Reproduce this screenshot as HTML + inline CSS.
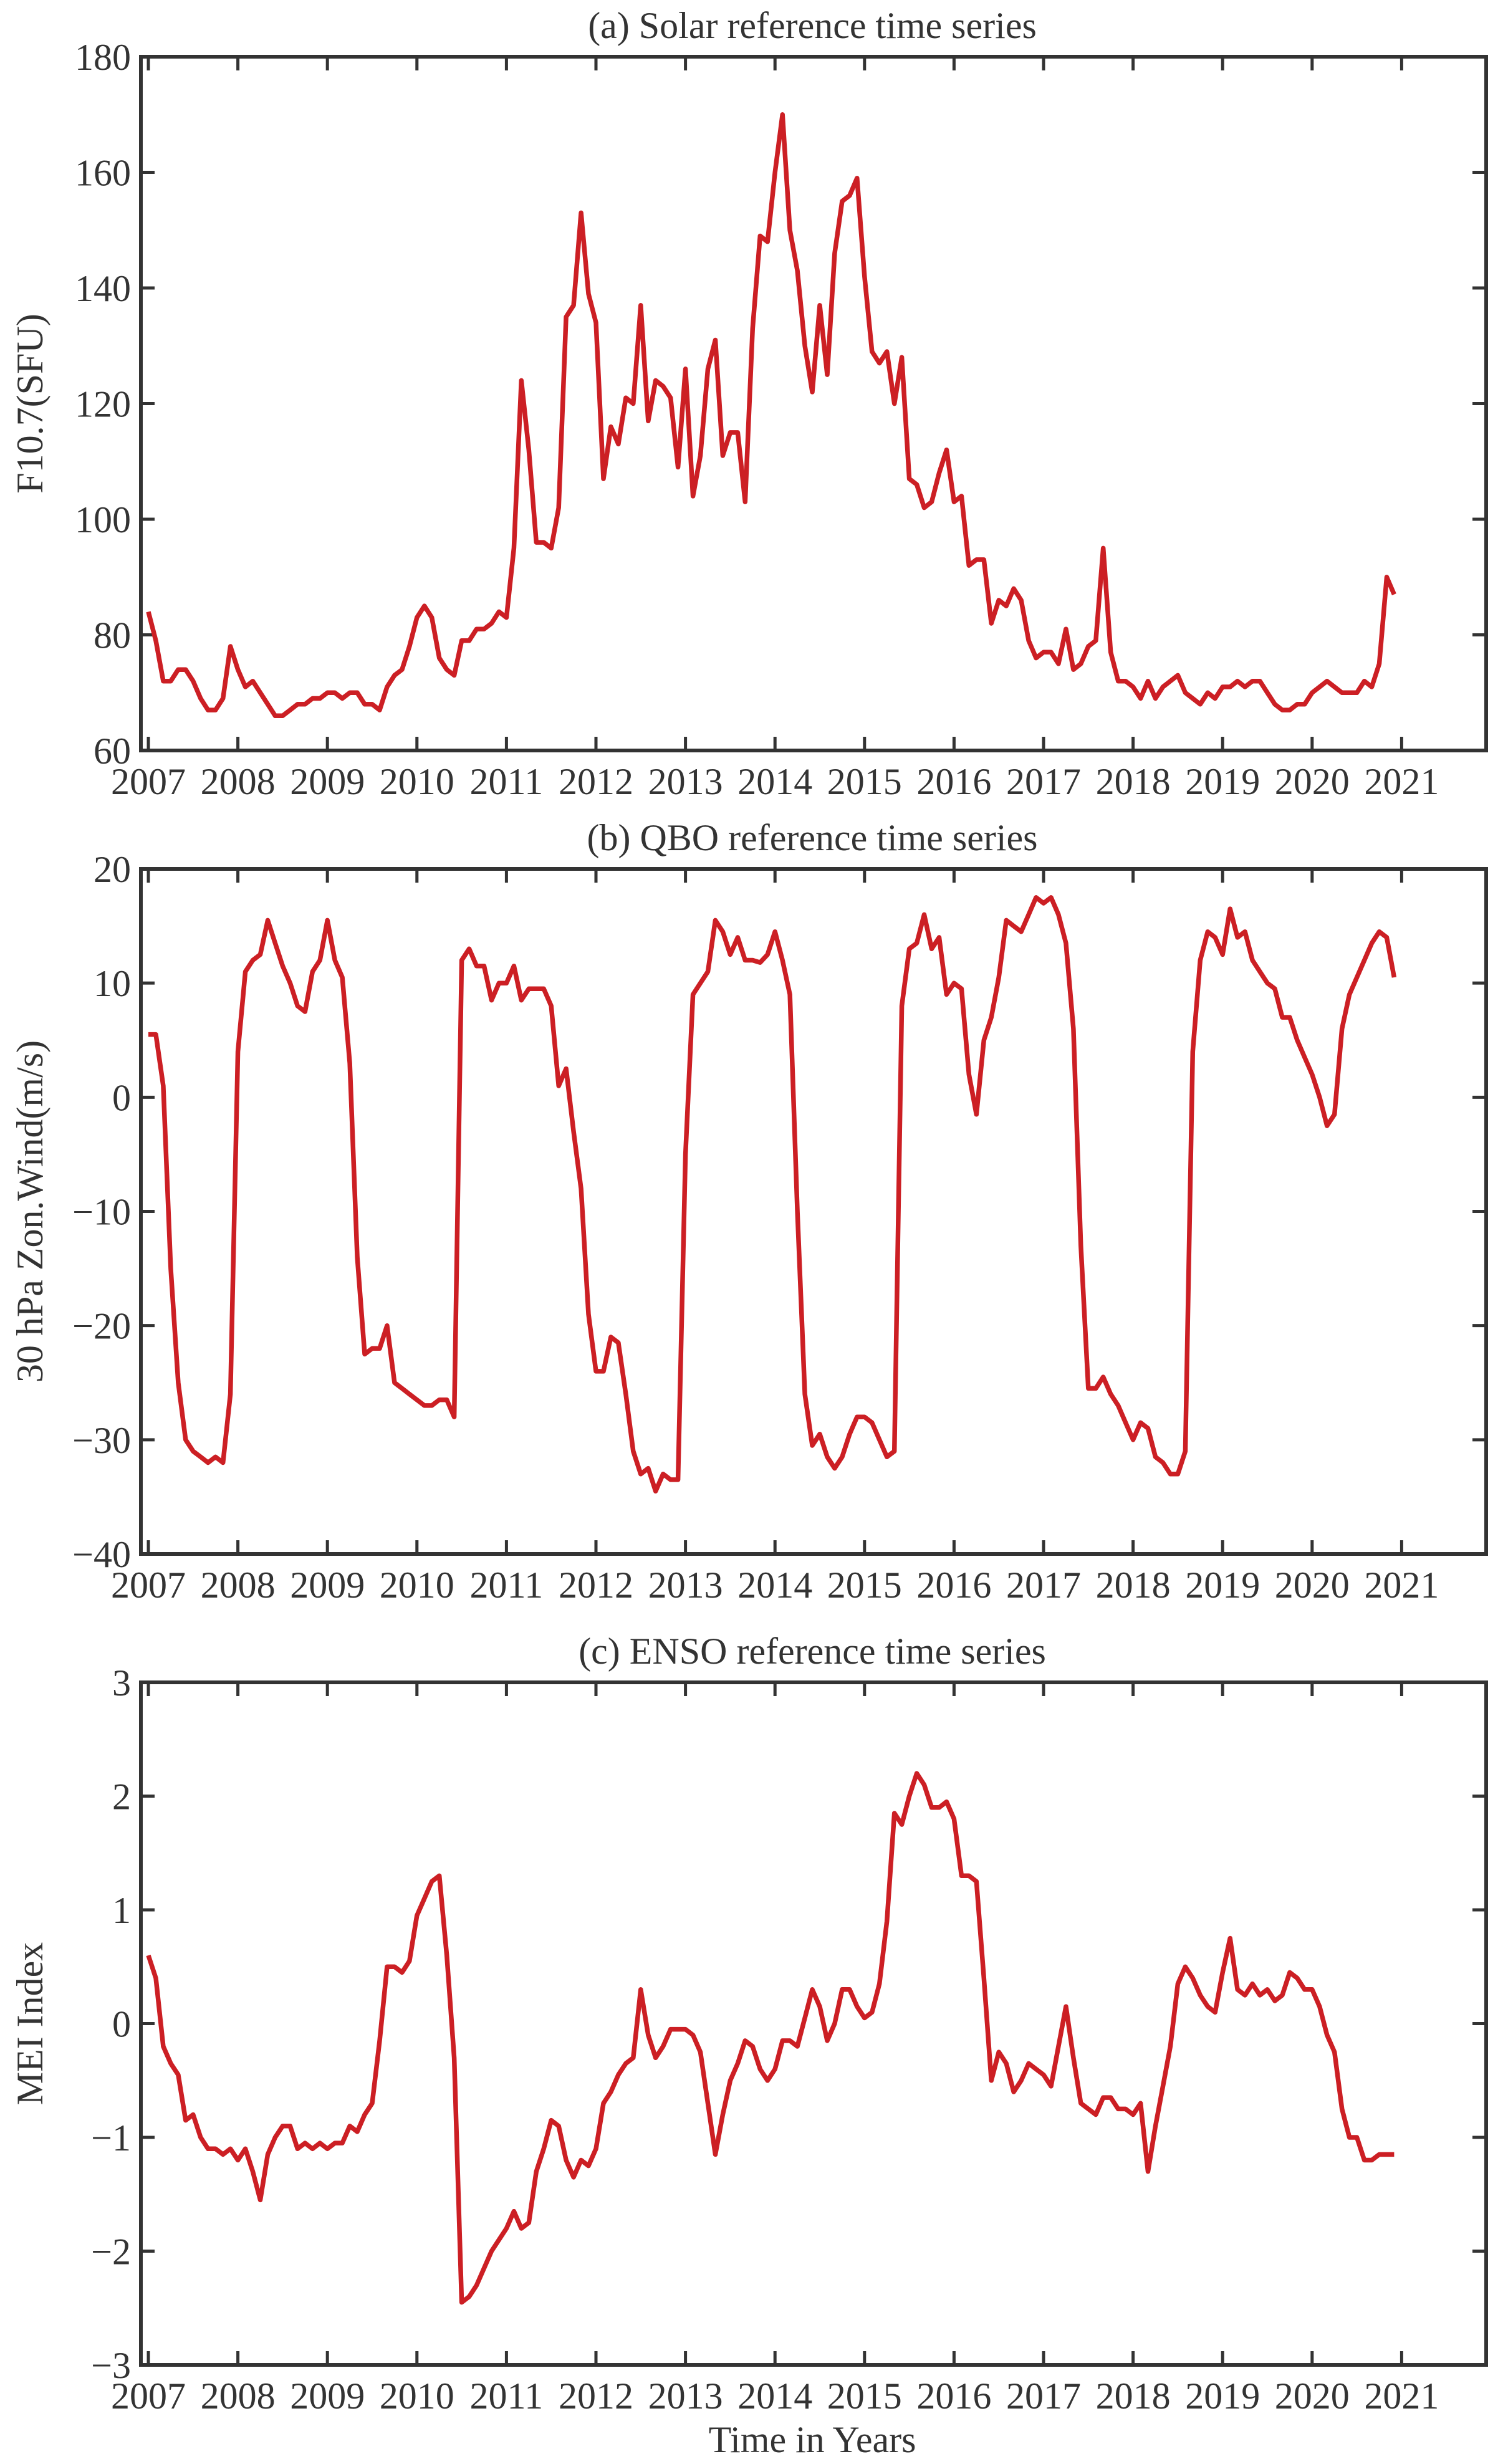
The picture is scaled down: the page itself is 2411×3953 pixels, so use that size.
<!DOCTYPE html>
<html><head><meta charset="utf-8"><style>
html,body{margin:0;padding:0;background:#fff;}
svg{display:block;}
text{font-family:"Liberation Serif",serif;fill:#333;}
</style></head><body>
<svg id="fig" width="2411" height="3953" viewBox="0 0 2411 3953" xmlns="http://www.w3.org/2000/svg"></svg>
<script>
const years = [2007,2008,2009,2010,2011,2012,2013,2014,2015,2016,2017,2018,2019,2020,2021];
const solarTicks = [60,80,100,120,140,160,180];
const qboTicks = [-40,-30,-20,-10,0,10,20];
const ensoTicks = [-3,-2,-1,0,1,2,3];
const solarValues = [
84,79,72,72,74,74,72,69,67,67,69,78,
74,71,72,70,68,66,66,67,68,68,69,69,
70,70,69,70,70,68,68,67,71,73,74,78,
83,85,83,76,74,73,79,79,81,81,82,84,
83,95,124,112,96,96,95,102,135,137,153,139,
134,107,116,113,121,120,137,117,124,123,121,109,
126,104,111,126,131,111,115,115,103,133,149,148,
160,170,150,143,130,122,137,125,146,155,156,159,
142,129,127,129,120,128,107,106,102,103,108,112,
103,104,92,93,93,82,86,85,88,86,79,76,
77,77,75,81,74,75,78,79,95,77,72,72,
71,69,72,69,71,72,73,70,69,68,70,69,
71,71,72,71,72,72,70,68,67,67,68,68,
70,71,72,71,70,70,70,72,71,75,90,87];
const qboValues = [
5.5,5.5,1,-15,-25,-30,-31,-31.5,-32,-31.5,-32,-26,
4,11,12,12.5,15.5,13.5,11.5,10,8,7.5,11,12,
15.5,12,10.5,3,-14,-22.5,-22,-22,-20,-25,-25.5,-26,
-26.5,-27,-27,-26.5,-26.5,-28,12,13,11.5,11.5,8.5,10,
10,11.5,8.5,9.5,9.5,9.5,8,1,2.5,-3,-8,-19,
-24,-24,-21,-21.5,-26,-31,-33,-32.5,-34.5,-33,-33.5,-33.5,
-5,9,10,11,15.5,14.5,12.5,14,12,12,11.8,12.5,
14.5,12,9,-10,-26,-30.5,-29.5,-31.5,-32.5,-31.5,-29.5,-28,
-28,-28.5,-30,-31.5,-31,8,13,13.5,16,13,14,9,
10,9.5,2,-1.5,5,7,10.5,15.5,15,14.5,16,17.5,
17,17.5,16,13.5,6,-13,-25.5,-25.5,-24.5,-26,-27,-28.5,
-30,-28.5,-29,-31.5,-32,-33,-33,-31,4,12,14.5,14,
12.5,16.5,14,14.5,12,11,10,9.5,7,7,5,3.5,
2,0,-2.5,-1.5,6,9,10.5,12,13.5,14.5,14,10.5];
const ensoValues = [
0.6,0.4,-0.2,-0.35,-0.45,-0.85,-0.8,-1.0,-1.1,-1.1,-1.15,-1.1,
-1.2,-1.1,-1.3,-1.55,-1.15,-1.0,-0.9,-0.9,-1.1,-1.05,-1.1,-1.05,
-1.1,-1.05,-1.05,-0.9,-0.95,-0.8,-0.7,-0.15,0.5,0.5,0.45,0.55,
0.95,1.1,1.25,1.3,0.6,-0.3,-2.45,-2.4,-2.3,-2.15,-2.0,-1.9,
-1.8,-1.65,-1.8,-1.75,-1.3,-1.1,-0.85,-0.9,-1.2,-1.35,-1.2,-1.25,
-1.1,-0.7,-0.6,-0.45,-0.35,-0.3,0.3,-0.1,-0.3,-0.2,-0.05,-0.05,
-0.05,-0.1,-0.25,-0.7,-1.15,-0.8,-0.5,-0.35,-0.15,-0.2,-0.4,-0.5,
-0.4,-0.15,-0.15,-0.2,0.05,0.3,0.15,-0.15,0.0,0.3,0.3,0.15,
0.05,0.1,0.35,0.9,1.85,1.75,2.0,2.2,2.1,1.9,1.9,1.95,
1.8,1.3,1.3,1.25,0.4,-0.5,-0.25,-0.35,-0.6,-0.5,-0.35,-0.4,
-0.45,-0.55,-0.2,0.15,-0.3,-0.7,-0.75,-0.8,-0.65,-0.65,-0.75,-0.75,
-0.8,-0.7,-1.3,-0.9,-0.55,-0.2,0.35,0.5,0.4,0.25,0.15,0.1,
0.45,0.75,0.3,0.25,0.35,0.25,0.3,0.2,0.25,0.45,0.4,0.3,
0.3,0.15,-0.1,-0.25,-0.75,-1.0,-1.0,-1.2,-1.2,-1.15,-1.15,-1.15];

const NS="http://www.w3.org/2000/svg";
const svg=document.getElementById('fig');
function mk(tag,attrs,parent){const e=document.createElementNS(NS,tag);for(const k in attrs)e.setAttribute(k,attrs[k]);(parent||svg).appendChild(e);return e;}
const L=226,R=2384,X0=238,PY=143.6;
function xs(t){return X0+(t-2007)*PY;}

function panel(key,top,bottom,ticks,values,title,ylabel){
  const ymin=ticks[0],ymax=ticks[ticks.length-1];
  const ys=v=>bottom-(v-ymin)/(ymax-ymin)*(bottom-top);
  const g=mk('g',{});
  
  
  const t=mk('text',{x:1303,y:top-30,'font-size':60,'text-anchor':'middle'},g);
  t.textContent=title;
  
  
  const yl=mk('text',{x:0,y:0,'font-size':60,'text-anchor':'middle',transform:`translate(68,${(top+bottom)/2}) rotate(-90)`},g);
  yl.textContent=ylabel;
  
  
  years.forEach(yr=>{
    const x=xs(yr);
    const tk=mk('path',{d:`M${x},${bottom}v-22M${x},${top}v22`,stroke:'#333','stroke-width':5},g);
    
    
    const lb=mk('text',{x:x,y:bottom+70,'font-size':60,'text-anchor':'middle'},g);
    lb.textContent=yr;
    
    
  });
  ticks.forEach(v=>{
    const y=ys(v);
    const tk=mk('path',{d:`M${L},${y}h22M${R},${y}h-22`,stroke:'#333','stroke-width':5},g);
    
    
    const lb=mk('text',{x:210,y:y+21,'font-size':60,'text-anchor':'end'},g);
    lb.textContent=(v<0?'\u2212'+Math.abs(v):String(v));
    
    
  });
  const pts=values.map((v,i)=>xs(2007+i/12).toFixed(1)+','+ys(v).toFixed(1)).join(' ');
  const line=mk('polyline',{points:pts,fill:'none',stroke:'#cc1f24','stroke-width':7.5,'stroke-linejoin':'round'},g);
  
  
  const box=mk('rect',{x:L,y:top,width:R-L,height:bottom-top,fill:'none',stroke:'#333','stroke-width':6},g);
  
  
}
panel('solar',91,1204,solarTicks,solarValues,'(a) Solar reference time series','F10.7(SFU)');
panel('qbo',1394,2493,qboTicks,qboValues,'(b) QBO reference time series','30 hPa Zon.Wind(m/s)');
panel('enso',2699,3794,ensoTicks,ensoValues,'(c) ENSO reference time series','MEI Index');
const xl=mk('text',{x:1303,y:3934,'font-size':60,'text-anchor':'middle'});
xl.textContent='Time in Years';


</script>
</body></html>
